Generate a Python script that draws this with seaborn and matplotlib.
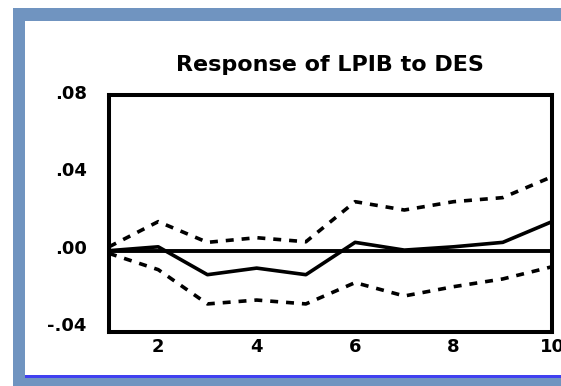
import matplotlib
matplotlib.use("Agg")
import matplotlib.pyplot as plt
import matplotlib.patches as mpatches
import matplotlib.transforms as mtransforms
import seaborn as sns
import pandas as pd

# ---- data ----
periods = [1, 2, 3, 4, 5, 6, 7, 8, 9, 10]
response = [0.0, 0.002, -0.0124, -0.009, -0.0124, 0.0043, 0.0003, 0.002, 0.0043, 0.015]
upper_band = [0.002, 0.015, 0.0043, 0.0067, 0.0046, 0.0253, 0.021, 0.0253, 0.0274, 0.0382]
lower_band = [-0.0014, -0.0098, -0.0275, -0.0255, -0.0275, -0.0165, -0.0234, -0.0186, -0.0146, -0.0083]
y_ticks = [-0.04, 0.0, 0.04, 0.08]
y_tick_labels = ["-.04", ".00", ".04", ".08"]
x_ticks = [1, 2, 3, 4, 5, 6, 7, 8, 9, 10]
x_tick_labels = ["", "2", "", "4", "", "6", "", "8", "", "10"]
title = "Response of LPIB to DES"

df = pd.concat([
    pd.DataFrame({"period": periods, "value": response, "series": "resp"}),
    pd.DataFrame({"period": periods, "value": upper_band, "series": "upper"}),
    pd.DataFrame({"period": periods, "value": lower_band, "series": "lower"}),
])

sns.set_style("white")
plt.rcParams["font.family"] = ["DejaVu Sans"]

W, H = 561, 386
fig = plt.figure(figsize=(W / 100, H / 100), dpi=100)
fig.patch.set_facecolor("white")

frame_col = "#7094C0"
# frame: top band, left band, bottom bars
fig.patches.append(mpatches.Rectangle((13 / W, 1 - 21 / H), 1, 13 / H, transform=fig.transFigure,
                                      facecolor=frame_col, edgecolor="none", zorder=0))
fig.patches.append(mpatches.Rectangle((13 / W, 0), 12 / W, 1 - 8 / H, transform=fig.transFigure,
                                      facecolor=frame_col, edgecolor="none", zorder=0))
fig.patches.append(mpatches.Rectangle((13 / W, 0), 1, 8 / H, transform=fig.transFigure,
                                      facecolor=frame_col, edgecolor="none", zorder=0))
fig.patches.append(mpatches.Rectangle((25 / W, 8 / H), 1, 3.5 / H, transform=fig.transFigure,
                                      facecolor="#4040F0", edgecolor="none", zorder=0))

ax = fig.add_axes([109 / W, 1 - 332 / H, (552 - 109) / W, (332 - 95) / H])
ax.set_facecolor("white")

ax.axhline(0, color="black", lw=2.8, zorder=1)
sns.lineplot(data=df, x="period", y="value", hue="series", style="series",
             palette={"resp": "black", "upper": "black", "lower": "black"},
             dashes={"resp": "", "upper": (2.2, 2.2), "lower": (2.2, 2.2)},
             linewidth=2.6, legend=False, ax=ax, zorder=2)

ax.set_xlim(1, 10)
ax.set_ylim(-0.042, 0.0804)
ax.set_xticks(x_ticks)
ax.set_xticklabels(x_tick_labels)
ax.set_yticks(y_ticks)
ax.set_yticklabels(y_tick_labels)
ax.set_xlabel("")
ax.set_ylabel("")

for s in ax.spines.values():
    s.set_visible(True)
    s.set_linewidth(2.9)
    s.set_color("black")

ax.tick_params(axis="y", direction="out", length=10, width=2.9, pad=6,
               labelsize=13, colors="black")
ax.tick_params(axis="x", direction="out", length=3.6, width=2.9, pad=1,
               labelsize=13, colors="black")
for lab in ax.get_yticklabels() + ax.get_xticklabels():
    lab.set_fontweight("bold")
offset = mtransforms.ScaledTranslation(0, 4 / 100, fig.dpi_scale_trans)
for lab in ax.get_yticklabels():
    lab.set_transform(lab.get_transform() + offset)

fig.text(330 / W, 1 - 65 / H, title, ha="center", va="center",
         fontsize=16, fontweight="bold", color="black")

fig.savefig("out.png", dpi=100)
